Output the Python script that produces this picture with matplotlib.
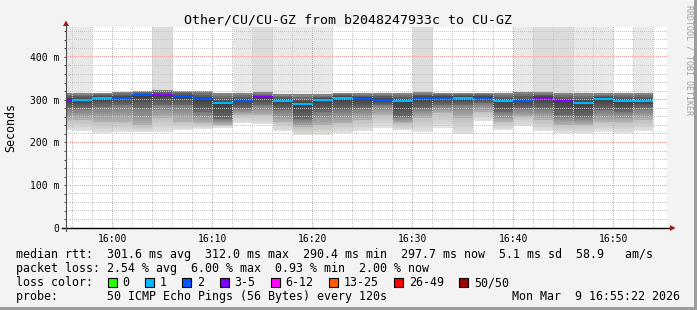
import numpy as np
import pandas as pd
import matplotlib
matplotlib.use("Agg")
import matplotlib.pyplot as plt
import matplotlib.dates as mdates
from matplotlib.lines import Line2D
from matplotlib.patches import Polygon, Rectangle
from matplotlib.ticker import MultipleLocator, FuncFormatter

W, H = 697, 310
MONO = "DejaVu Sans Mono"

# one entry per 120 s step, first step starts at 15:54 (only its tail is on the chart)
first_step = "2026-03-09 15:54"
median_ms = [300, 300, 305, 305, 310, 312, 309, 302, 292, 298, 306, 298, 290.4, 300, 305,
             302, 300, 296, 305, 305, 305, 305, 298, 298, 305, 298, 293, 302.5, 296, 297.7]
loss_pings = [3, 1, 1, 2, 2, 3, 2, 2, 1, 2, 3, 1, 1, 1, 1,
              2, 2, 1, 2, 2, 1, 2, 1, 2, 3, 3, 1, 1, 1, 1]
smoke_top = [315, 315, 316, 318, 321, 322, 321, 320, 315, 315, 317, 313, 313, 313, 315,
             315, 315, 315, 317, 315, 315, 315, 315, 317, 317, 315, 315, 315, 315, 315]
pings_off_top = [1, 1, 0, 0, 0, 2, 0, 0, 0, 1, 2, 1, 1, 1, 0,
                 0, 0, 0, 2, 0, 0, 0, 0, 1, 2, 2, 1, 1, 0, 1]
dark_lo = [281, 280, 284, 288, 280, 288, 288, 272, 256, 280, 288, 276, 256, 272, 276,
           280, 288, 260, 280, 288, 288, 292, 272, 280, 280, 264, 260, 276, 272, 280]
mid_lo = [253, 253, 249, 249, 241, 257, 249, 245, 242, 264, 264, 249, 237, 241, 245,
          253, 264, 245, 257, 268, 257, 272, 249, 260, 253, 241, 241, 249, 249, 253]
smoke_bottom = [229, 227, 221, 224, 224, 225, 228, 232, 235, 245, 243, 227, 218, 218, 222,
                227, 235, 228, 225, 235, 219, 251, 229, 239, 227, 222, 222, 225, 222, 227]

loss_labels = ["0", "1", "2", "3-5", "6-12", "13-25", "26-49", "50/50"]
loss_floor = [0, 1, 2, 3, 6, 13, 26, 50]
loss_colors = ["#26ff00", "#00b8ff", "#0059ff", "#7e00ff", "#ff00ff", "#ff5a00", "#ff0000", "#a10000"]

title = "Other/CU/CU-GZ from b2048247933c to CU-GZ"
stat_lines = [
    "median rtt:  301.6 ms avg  312.0 ms max  290.4 ms min  297.7 ms now  5.1 ms sd  58.9   am/s",
    "packet loss: 2.54 % avg  6.00 % max  0.93 % min  2.00 % now",
]
probe_line = "probe:       50 ICMP Echo Pings (56 Bytes) every 120s"
stamp = "Mon Mar  9 16:55:22 2026"
view_start, view_end = "2026-03-09 15:55:22", "2026-03-09 16:55:22"


def fx(x):
    return x / W


def fy(y):
    return 1 - y / H


fig = plt.figure(figsize=(W / 100, H / 100), dpi=100, facecolor="#f3f3f3")
ax_rect = [fx(66), fy(228), 601 / W, 201 / H]
ax = fig.add_axes(ax_rect)
ax.set_facecolor("white")
for s in ax.spines.values():
    s.set_visible(False)

n = len(median_ms)
starts = mdates.date2num(pd.date_range(first_step, periods=n, freq="120s").to_numpy())
step = 120 / 86400
med = np.array(median_ms)
xlim = (mdates.datestr2num(view_start), mdates.datestr2num(view_end))
ylim = (0, 470)


def band(lo, hi, g_lo, g_hi, parts=8):
    lo, hi = np.asarray(lo, float), np.asarray(hi, float)
    for j in range(parts):
        b0 = lo + (hi - lo) * j / parts
        b1 = lo + (hi - lo) * (j + 1) / parts
        g = g_lo + (g_hi - g_lo) * (j + 0.5) / parts
        ax.bar(starts, b1 - b0, bottom=b0, width=step, align="edge",
               color=str(round(g, 3)), linewidth=0, antialiased=False, zorder=2)


# pings beyond the top of the chart
off = np.array(pings_off_top)
top_cols = np.where(off >= 2, "#dcdcdc", "#e8e8e8")
m = off > 0
ax.bar(starts[m], 500 - np.array(smoke_top)[m], bottom=np.array(smoke_top)[m], width=step,
       align="edge", color=top_cols[m], linewidth=0, antialiased=False, zorder=2)

# smoke
band(med, smoke_top, 0.25, 0.55, parts=4)
band(med, dark_lo, 0.23, 0.42)
band(dark_lo, mid_lo, 0.47, 0.70)
band(mid_lo, smoke_bottom, 0.75, 0.89)

ax.set_xlim(*xlim)
ax.set_ylim(*ylim)

ax.xaxis.set_major_locator(mdates.MinuteLocator(byminute=range(0, 60, 10)))
ax.xaxis.set_minor_locator(mdates.MinuteLocator(byminute=range(0, 60, 2)))
ax.xaxis.set_major_formatter(mdates.DateFormatter("%H:%M"))
ax.yaxis.set_major_locator(MultipleLocator(100))
ax.yaxis.set_minor_locator(MultipleLocator(20))
ax.yaxis.set_major_formatter(FuncFormatter(lambda v, p: "0" if v == 0 else f"{v:.0f} m"))

ax.tick_params(axis="x", which="both", length=0, pad=4, labelsize=7, labelcolor="black")
ax.tick_params(axis="y", which="both", length=1.5, width=0.7, color="#444444", pad=3,
               labelsize=7, labelcolor="black")
for lab in ax.get_xticklabels() + ax.get_yticklabels():
    lab.set_fontfamily(MONO)

# dotted rrdtool-style grid, one pixel on / one off, laid over the smoke
grid = np.zeros((H, W, 4))
minor_col = (0.78, 0.78, 0.78, 1.0)
major_col = (0.94, 0.62, 0.62, 1.0)
x0d, y0d = ax.transData.transform((xlim[0], ylim[0]))
x1d, y1d = ax.transData.transform((xlim[1], ylim[1]))
c0, c1 = int(round(x0d)), int(round(x1d)) + 1
r0, r1 = int(round(H - y1d)), int(round(H - y0d))
for locs, col in ((ax.yaxis.get_minorticklocs(), minor_col), (ax.yaxis.get_majorticklocs(), major_col)):
    for v in locs:
        if v <= 0 or v > ylim[1]:
            continue
        r = int(np.floor(H - ax.transData.transform((xlim[0], v))[1]))
        grid[r, c0:c1:2] = col
for locs, col in ((ax.xaxis.get_minorticklocs(), minor_col), (ax.xaxis.get_majorticklocs(), major_col)):
    for v in locs:
        c = int(np.floor(ax.transData.transform((v, 0))[0]))
        if c <= c0 or c >= c1:
            continue
        grid[r0:r1:2, c] = col
fig.figimage(grid, xo=0, yo=0, origin="upper", zorder=1)

# median line coloured by loss, on a transparent axes above the grid
top = fig.add_axes(ax_rect, zorder=2)
top.patch.set_visible(False)
top.set_axis_off()
idx = np.searchsorted(loss_floor, loss_pings, side="right") - 1
top.hlines(med, starts, starts + step, colors=[loss_colors[i] for i in idx],
           linewidth=1.5, capstyle="butt")
top.set_xlim(*xlim)
top.set_ylim(*ylim)

# axes lines and arrows
fig.add_artist(Line2D([fx(62), fx(670)], [fy(228), fy(228)], transform=fig.transFigure,
                      color="black", linewidth=1.0, zorder=3))
fig.add_artist(Line2D([fx(66), fx(66)], [fy(231), fy(25)], transform=fig.transFigure,
                      color="#4d4d4d", linewidth=0.8, zorder=3))
arrow_col = "#9b1b1b"
fig.add_artist(Polygon([(fx(66), fy(20.5)), (fx(63), fy(26)), (fx(69), fy(26))],
                       closed=True, transform=fig.transFigure, color=arrow_col, linewidth=0, zorder=3))
fig.add_artist(Polygon([(fx(675.5), fy(228)), (fx(670), fy(225)), (fx(670), fy(231))],
                       closed=True, transform=fig.transFigure, color=arrow_col, linewidth=0, zorder=3))

# frame
fig.add_artist(Rectangle((fx(694), 0), 3 / W, 1, transform=fig.transFigure, color="#9d9d9d", linewidth=0))
fig.add_artist(Rectangle((0, 0), 1, 3 / H, transform=fig.transFigure, color="#9d9d9d", linewidth=0))

# texts
fig.text(fx(348), fy(23.5), title, ha="center", va="baseline", family=MONO, fontsize=9.55)
fig.text(fx(11), fy(127), "Seconds", rotation=90, ha="center", va="center", family=MONO, fontsize=8.37)
fig.text(fx(688.5), fy(5), "RRDTOOL / TOBI OETIKER", rotation=270, ha="center", va="top",
         family=MONO, fontsize=6, color="#a0a0a0")

fig.text(fx(16), fy(258), stat_lines[0], ha="left", va="baseline", family=MONO, fontsize=8.37)
fig.text(fx(16), fy(272), stat_lines[1], ha="left", va="baseline", family=MONO, fontsize=8.37)
fig.text(fx(16), fy(286), "loss color:", ha="left", va="baseline", family=MONO, fontsize=8.37)
fig.text(fx(16), fy(300), probe_line, ha="left", va="baseline", family=MONO, fontsize=8.37)
fig.text(fx(680), fy(300), stamp, ha="right", va="baseline", family=MONO, fontsize=8.37)

bx = 108
for lab, col in zip(loss_labels, loss_colors):
    fig.add_artist(Rectangle((fx(bx), fy(287)), 9 / W, 9 / H, transform=fig.transFigure,
                             facecolor=col, edgecolor="black", linewidth=0.8))
    fig.text(fx(bx + 14.5), fy(286), lab, ha="left", va="baseline", family=MONO, fontsize=8.37)
    bx = bx + 14.5 + 7 * len(lab) + 15.7

fig.savefig("out.png", dpi=100, facecolor=fig.get_facecolor())
